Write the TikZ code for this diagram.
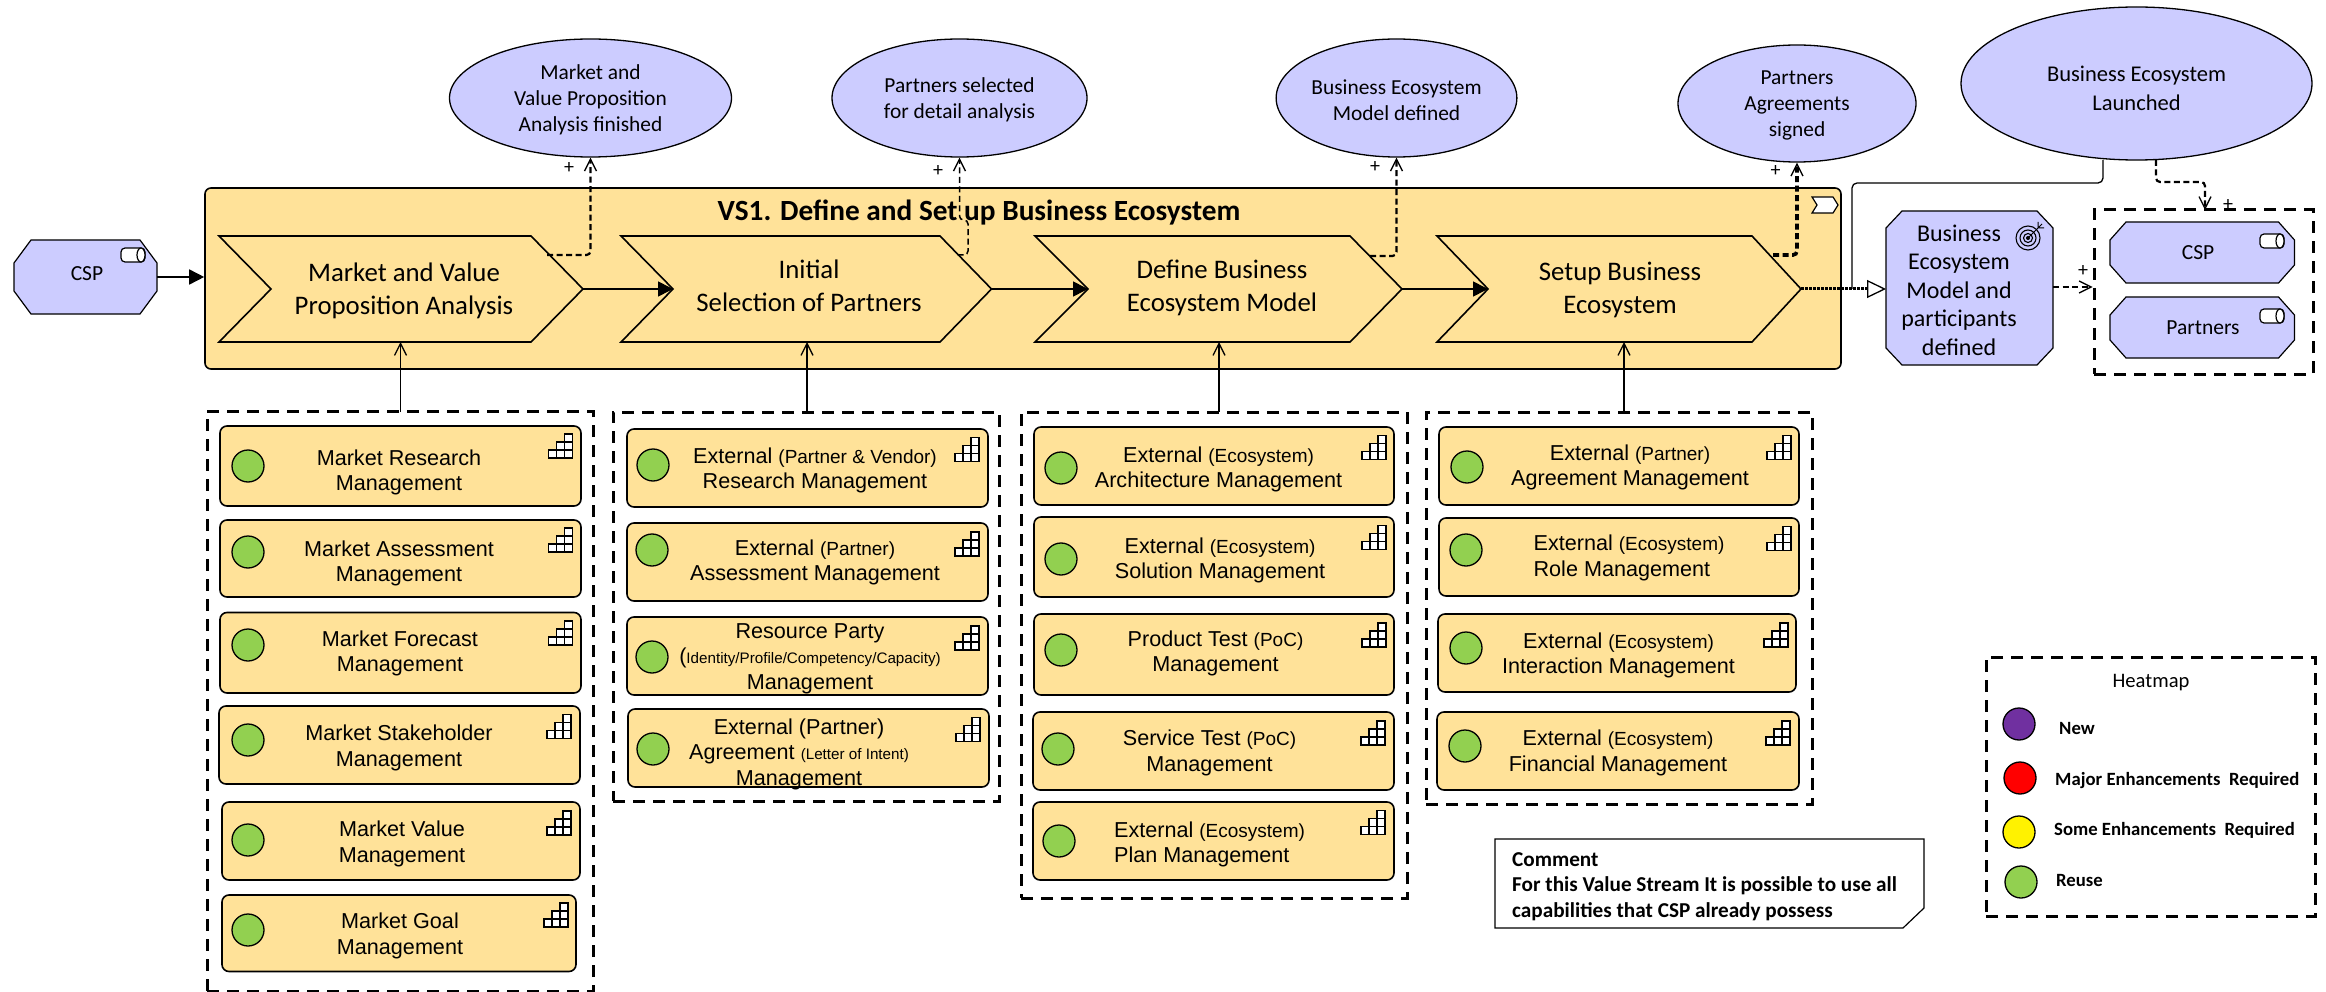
\documentclass[tikz,border=0pt]{standalone}
\usepackage{fontspec}
\setmainfont{Carlito}
\newfontfamily\arialf{Liberation Sans}
\usetikzlibrary{arrows.meta,shapes.geometric,calc}
\definecolor{vsyellow}{HTML}{FFE299}
\definecolor{lilac}{HTML}{CCCCFF}
\definecolor{reuse}{HTML}{92D050}
\definecolor{newp}{HTML}{7030A0}
\tikzset{
  outl/.style={draw=black,line width=1.6pt},
  vsbox/.style={outl,fill=vsyellow,rounded corners=6pt,inner sep=0pt},
  capb/.style={outl,fill=vsyellow,rounded corners=7pt,inner sep=0pt},
  chevb/.style={outl,fill=vsyellow,line join=miter},
  octb/.style={draw=black,line width=1.2pt,fill=lilac},
  evt/.style={ellipse,draw=black,line width=1.3pt,fill=lilac,inner sep=0pt,align=center},
  grp/.style={draw=black,line width=3pt,dash pattern=on 12pt off 8pt,inner sep=0pt},
  ghost/.style={inner sep=0pt,outer sep=0pt},
  dot/.style={circle,draw=black,line width=1.3pt,inner sep=0pt,minimum size=32pt},
  captxt/.style={align=center,inner sep=0pt,yshift=-2.5pt,font=\arialf\fontsize{21.6}{25.5}\selectfont},
  chtxt/.style={align=center,inner sep=0pt,font=\fontsize{26.8}{33}\selectfont},
  lbl/.style={inner sep=0pt,align=center},
  plus/.style={inner sep=0pt,font=\fontsize{20}{20}\selectfont},
  flowarr/.style={line width=1.6pt,-{Triangle[length=15pt,width=15pt]}},
  realarr/.style={line width=1.3pt,-{Straight Barb[length=12pt,width=12pt]}},
  dasharr/.style={line width=2.2pt,dash pattern=on 6pt off 3.5pt,rounded corners=4pt,-{Straight Barb[length=12pt,width=12pt,line width=1.3pt]}},
  legtxt/.style={inner sep=0pt,anchor=west,font=\bfseries\fontsize{18.7}{22}\selectfont},
}
\newcommand\dgsm[1]{{\fontsize{19}{19}\selectfont #1}}
\newcommand\dgxs[1]{{\fontsize{15.2}{15.2}\selectfont #1}}
\newcommand\dgup{\rule{0pt}{18.5pt}}
\newcommand\dgstairs[2]{%
  \begin{scope}[shift={(#1,#2)}]
    \draw[fill=white,line width=1.2pt] (0,16) rectangle (8,24) (8,16) rectangle (16,24) (16,16) rectangle (24,24)
      (8,8) rectangle (16,16) (16,8) rectangle (24,16) (16,0) rectangle (24,8);
  \end{scope}}
% name x1 y1 x2 y2 circlex circley iconx icony
\newcommand\dgcap[9]{%
  \node[capb,minimum width={(#4-#2)*1pt},minimum height={(#5-#3)*1pt}] (#1) at ({(#2+#4)/2},{(#3+#5)/2}) {};
  \node[dot,fill=reuse] (#1-dot) at (#6,#7) {};
  \dgstairs{#8}{#9}}
\newcommand\dgchev[5]{%
  \draw[chevb] (#2,236) -- (#4,236) -- (#5,289) -- (#4,342) -- (#2,342) -- (#3,289) -- cycle;
  \coordinate (#1-tip) at (#5,289);
  \coordinate (#1-notch) at (#3,289);}
\newcommand\dgocta[7]{%
  \draw[octb] ({#2+#6},#3) -- ({#4-#6},#3) -- (#4,{#3+#7}) -- (#4,{#5-#7}) -- ({#4-#6},#5) -- ({#2+#6},#5) -- (#2,{#5-#7}) -- (#2,{#3+#7}) -- cycle;
  \node[ghost,minimum width={(#4-#2)*1pt},minimum height={(#5-#3)*1pt}] (#1) at ({(#2+#4)/2},{(#3+#5)/2}) {};}
\newcommand\dgdevice[2]{%
  \begin{scope}[shift={(#1,#2)}]
    \draw[fill=white,line width=1.2pt,rounded corners=4pt] (0,0) rectangle (24,14);
    \draw[fill=white,line width=1.2pt] (20,7) ellipse [x radius=4,y radius=7];
  \end{scope}}
\begin{document}
\begin{tikzpicture}[x=1pt,y=-1pt]
\useasboundingbox (0,0) rectangle (2326,992);

% value stream container
\node[vsbox,minimum width=1636pt,minimum height=181pt] (vs) at (1023,278.5) {};
\draw[fill=white,line width=1.2pt] (1812,197) -- (1833,197) -- (1838,205) -- (1833,213) -- (1812,213) -- (1817,205) -- cycle;
\node[lbl,font=\bfseries\fontsize{29.3}{34}\selectfont] (vs-t) at (979,212.5) {VS1. Define and Set up Business Ecosystem};

% stages
\dgchev{ch1}{219}{271}{531}{583}
\dgchev{ch2}{621}{673}{940}{991.5}
\dgchev{ch3}{1035}{1088}{1350}{1402}
\dgchev{ch4}{1437}{1488}{1752}{1801}
\node[chtxt] (ch1-t) at (404,291) {Market and Value\\Proposition Analysis};
\node[chtxt] (ch2-t) at (809,286) {Initial\\Selection of Partners};
\node[chtxt] (ch3-t) at (1222,288) {Define Business\\Ecosystem Model};
\node[chtxt] (ch4-t) at (1620,289.5) {Setup Business\\Ecosystem};
\draw[flowarr] (ch1-tip) -- (ch2-notch);
\draw[flowarr] (ch2-tip) -- (ch3-notch);
\draw[flowarr] (ch3-tip) -- (ch4-notch);

% CSP role
\dgocta{csp}{14}{240}{157}{314}{17}{23}
\dgdevice{121}{248}
\node[lbl,font=\fontsize{21.5}{25}\selectfont] (csp-t) at (87,274) {CSP};
\draw[flowarr] (csp.east) -- (csp.east -| vs.west);

% events
\node[evt,minimum width=282pt,minimum height=118pt,font=\fontsize{21.4}{26}\selectfont] (e1) at (590.5,98) {\dgup Market and\\Value Proposition\\Analysis finished};
\node[evt,minimum width=255pt,minimum height=118pt,font=\fontsize{21.4}{26}\selectfont] (e2) at (959.5,98) {\dgup Partners selected\\for detail analysis};
\node[evt,minimum width=239pt,minimum height=118pt,font=\fontsize{21.4}{26}\selectfont] (e3) at (1396.5,98) {\dgup Business Ecosystem\\Model defined};
\node[evt,minimum width=238pt,minimum height=117pt,font=\fontsize{21.4}{26}\selectfont] (e4) at (1797,103.5) {\dgup Partners\\Agreements\\signed};
\node[evt,minimum width=351pt,minimum height=153pt,font=\fontsize{22.5}{29}\selectfont] (e5) at (2136.5,83.5) {\rule{0pt}{26pt}Business Ecosystem\hspace{5pt}\\Launched\hspace{5pt}};

\coordinate (c1o) at (547,255);
\coordinate (c2o) at (957.5,255);
\coordinate (c2m) at (968,220);
\coordinate (c3o) at (1370,256);
\coordinate (c4o) at (1773,255);
\draw[dasharr] (c1o) -| (e1.south);
\draw[dasharr,line width=1.5pt] (c2o) -- (c2o -| c2m) -- (c2m) -- (c2m -| e2.south) -- (e2.south);
\draw[dasharr] (c3o) -| (e3.south);
\draw[dasharr,line width=3.6pt] (c4o) -| (e4.south);
\node[plus] (p1) at (569,168) {+};
\node[plus] (p2) at (938,171) {+};
\node[plus] (p3) at (1375,167) {+};
\node[plus] (p4) at (1775.5,171) {+};

% goal
\dgocta{goal}{1886}{211}{2053}{365}{16}{17}
\node[lbl,font=\fontsize{24}{28.5}\selectfont] (goal-t) at (1959,290) {Business\\Ecosystem\\Model and\\participants\\defined};
\begin{scope}[shift={(2028,238)}]
  \draw[line width=1.1pt,fill=lilac] (0,0) circle (12);
  \draw[line width=1.1pt] (0,0) circle (8);
  \draw[line width=1.1pt] (0,0) circle (4.5);
  \fill (0,0) circle (2);
  \draw[line width=1pt] (0,0) -- (14,-14) (10,-10) -- (16,-10) (10,-10) -- (10,-16);
\end{scope}

% dotted link and launched link
\coordinate (join) at (1852,289);
\coordinate (trig) at (1886,289);
\draw[line width=3pt,dash pattern=on 2.5pt off 1.5pt] (ch4-tip) -- (1868,289);
\draw[line width=1.3pt,rounded corners=5pt] (2103,160) -- (2103,183) -- (1852,183) -- (join);
\draw[line width=1.3pt,-{Triangle[open,fill=white,length=19pt,width=18pt]}] (1866,289) -- (trig);

% resources group
\node[grp,minimum width=219pt,minimum height=164pt] (gr) at (2203.5,292) {};
\dgocta{r1}{2110}{222}{2294.5}{283}{16}{18}
\dgdevice{2260}{234}
\node[lbl,font=\fontsize{21.5}{25}\selectfont] (r1-t) at (2198,253) {CSP};
\dgocta{r2}{2110}{297}{2294.5}{358}{16}{18}
\dgdevice{2260}{309}
\node[lbl,font=\fontsize{21.5}{25}\selectfont] (r2-t) at (2203,328) {Partners};
\draw[dasharr] (goal.east |- 0,287) -- (gr.west |- 0,287);
\node[plus] (p5) at (2083,271) {+};
\coordinate (e5o) at (2156,160);
\coordinate (gri) at (2205,210);
\draw[dasharr] (e5o) -- (2156,182) -- (2205,182) -- (gri);
\node[plus] (p6) at (2228,205) {+};

% capability groups
\node[grp,minimum width=386pt,minimum height=580pt] (g1) at (400,701) {};
\node[grp,minimum width=386pt,minimum height=389pt] (g2) at (806,606.5) {};
\node[grp,minimum width=386pt,minimum height=486pt] (g3) at (1214,655) {};
\node[grp,minimum width=386pt,minimum height=392pt] (g4) at (1619,608) {};
\coordinate (g1o) at (400.5,412);
\coordinate (g2o) at (807,412);
\coordinate (g3o) at (1219,412);
\coordinate (g4o) at (1624,412);
\draw[realarr] (g1o) -- (g1o |- 0,342);
\draw[realarr] (g2o) -- (g2o |- 0,342);
\draw[realarr] (g3o) -- (g3o |- 0,342);
\draw[realarr] (g4o) -- (g4o |- 0,342);

% column 1
\dgcap{a1}{220}{426}{581}{506}{248}{466}{548.5}{434}
\node[captxt] (a1-t) at (399,470) {Market Research\\Management};
\dgcap{a2}{220}{520}{581}{597}{248}{552}{548.5}{528}
\node[captxt] (a2-t) at (399,561) {Market Assessment\\Management};
\dgcap{a3}{220}{612.5}{581}{693}{248}{645}{548.5}{621}
\node[captxt] (a3-t) at (400,651) {Market Forecast\\Management};
\dgcap{a4}{219}{706}{580}{784}{248}{740}{547}{714.5}
\node[captxt] (a4-t) at (399,745.5) {Market Stakeholder\\Management};
\dgcap{a5}{222}{802}{580}{880}{248}{840}{547}{811}
\node[captxt] (a5-t) at (402,841.5) {Market Value\\Management};
\dgcap{a6}{222}{895}{576}{971.5}{248}{930}{544}{903}
\node[captxt] (a6-t) at (400,933.5) {Market Goal\\Management};

% column 2
\dgcap{b1}{627}{429}{988}{507}{653}{465}{955}{437.5}
\node[captxt] (b1-t) at (815,468) {External \dgsm{(Partner \& Vendor)}\\Research Management};
\dgcap{b2}{627}{523}{988}{601}{652}{550}{955}{532}
\node[captxt] (b2-t) at (815,560) {External \dgsm{(Partner)}\\Assessment Management};
\dgcap{b3}{627}{617}{988}{695}{652}{657}{955}{626}
\node[captxt] (b3-t) at (810,656) {Resource Party\\(\dgxs{Identity/Profile/Competency/Capacity)}\\Management};
\dgcap{b4}{628}{709}{989}{787}{653}{749}{956}{717.5}
\node[captxt] (b4-t) at (799,751.5) {External (Partner)\\Agreement \dgxs{(Letter of Intent)}\\Management};

% column 3
\dgcap{c1}{1034}{427}{1394}{505}{1061}{468}{1362}{435.5}
\node[captxt] (c1-t) at (1218.5,467) {External \dgsm{(Ecosystem)}\\Architecture Management};
\dgcap{c2}{1034}{517}{1394}{597}{1061}{559}{1362}{525.5}
\node[captxt] (c2-t) at (1220,558) {External \dgsm{(Ecosystem)}\\Solution Management};
\dgcap{c3}{1034}{614}{1394}{695}{1061}{650}{1362}{623}
\node[captxt] (c3-t) at (1215.5,651) {Product Test \dgsm{(PoC)}\\Management};
\dgcap{c4}{1033}{712}{1394}{790}{1058}{749}{1361}{721}
\node[captxt] (c4-t) at (1209.5,750.5) {Service Test \dgsm{(PoC)}\\Management};
\dgcap{c5}{1033}{802}{1394}{880}{1059}{841}{1361}{810.5}
\node[captxt,align=left] (c5-t) at (1209.5,842) {External \dgsm{(Ecosystem)}\\Plan Management};

% column 4
\dgcap{d1}{1439}{427}{1799}{505}{1467}{467}{1767}{435.5}
\node[captxt] (d1-t) at (1630,465) {External \dgsm{(Partner)}\\Agreement Management};
\dgcap{d2}{1439}{518}{1799}{596}{1466}{550}{1767}{526.5}
\node[captxt,align=left] (d2-t) at (1629,555.5) {External \dgsm{(Ecosystem)}\\Role Management};
\dgcap{d3}{1438}{614}{1796}{692}{1466}{648}{1764}{623}
\node[captxt] (d3-t) at (1618.5,653) {External \dgsm{(Ecosystem)}\\Interaction Management};
\dgcap{d4}{1437}{712}{1799}{790}{1465}{746}{1766}{721}
\node[captxt] (d4-t) at (1618,750.5) {External \dgsm{(Ecosystem)}\\Financial Management};

% comment
\draw[draw=black,line width=1.2pt,fill=white] (1495,839) -- (1924,839) -- (1924,908) -- (1903,928) -- (1495,928) -- cycle;
\node[inner sep=0pt,anchor=west,align=left,font=\bfseries\fontsize{21.2}{25.5}\selectfont] (note) at (1512,886.5) {Comment\\For this Value Stream It is possible to use all\\capabilities that CSP already possess};

% legend
\node[grp,minimum width=329pt,minimum height=259pt] (leg) at (2150.5,786.5) {};
\node[lbl,font=\fontsize{20.6}{24}\selectfont] (leg-t) at (2151,683) {Heatmap};
\node[dot,fill=newp] (l1) at (2019,724) {};
\node[dot,fill=red] (l2) at (2020,778) {};
\node[dot,fill=yellow] (l3) at (2019,832) {};
\node[dot,fill=reuse] (l4) at (2021,882) {};
\node[legtxt] (l1-t) at (2059,729) {New};
\node[legtxt] (l2-t) at (2055,781) {Major Enhancements\ \ Required};
\node[legtxt] (l3-t) at (2054,830) {Some Enhancements\ \ Required};
\node[legtxt] (l4-t) at (2056,880) {Reuse};
\end{tikzpicture}
\end{document}
